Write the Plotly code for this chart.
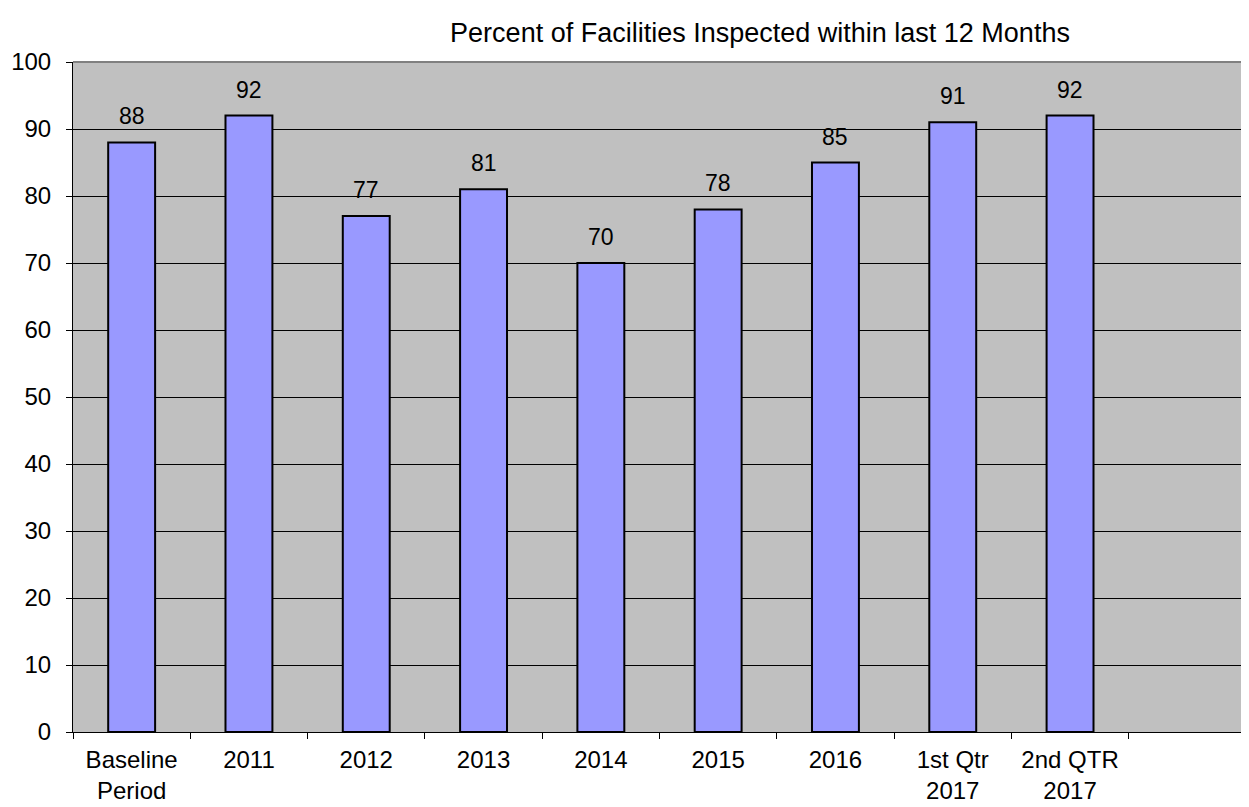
import plotly.graph_objects as go

categories = ["Baseline<br>Period", "2011", "2012", "2013", "2014", "2015", "2016",
              "1st Qtr<br>2017", "2nd QTR<br>2017", " "]
values = [88, 92, 77, 81, 70, 78, 85, 91, 92, None]
y_ticks = [0, 10, 20, 30, 40, 50, 60, 70, 80, 90, 100]
title = "Percent of Facilities Inspected within last 12 Months"

FONT = "Liberation Sans, Arial, sans-serif"
# the page body adds an 8px offset; the figure is sized to compensate
W, H = 1241, 799

fig = go.Figure()
fig.add_trace(go.Bar(
    x=categories, y=values,
    marker=dict(color="#9999FF", line=dict(color="black", width=2)),
    width=0.4, showlegend=False, hoverinfo="skip",
))

for i, v in enumerate(values):
    if v is not None:
        fig.add_annotation(x=i, y=v, text=str(v), showarrow=False,
                           yanchor="bottom", yshift=11,
                           font=dict(size=23, color="black", family=FONT))

fig.update_layout(
    width=W, height=H,
    margin=dict(l=65, r=3, t=54, b=75, autoexpand=False),
    paper_bgcolor="white",
    plot_bgcolor="#C0C0C0",
    font=dict(family=FONT, size=23, color="black"),
    title=dict(text=title, x=752 / W, xanchor="center", xref="container",
               y=1 - 25 / H, yanchor="middle", yref="container",
               pad=dict(t=0, b=0, l=0, r=0), automargin=False,
               font=dict(size=27, family=FONT, color="black")),
    bargap=0.6,
)
fig.update_xaxes(
    type="category", categoryorder="array", categoryarray=categories,
    range=[-0.5, 9.5], tickson="boundaries", ticks="outside", ticklen=6,
    tickcolor="black", tickwidth=1, showline=True, linecolor="black", linewidth=1,
    showgrid=False, tickfont=dict(size=24, family=FONT), tickangle=0,
    automargin=False, ticklabelstandoff=6,
)
fig.update_yaxes(
    range=[0, 100], tickvals=y_ticks, ticks="outside", ticklen=6,
    tickcolor="black", tickwidth=1, showline=True, linecolor="black", linewidth=1,
    showgrid=True, gridcolor="black", gridwidth=1, zeroline=False,
    tickfont=dict(size=24, family=FONT), automargin=False, ticklabelstandoff=10,
)
# top border of plot area
fig.add_shape(type="line", xref="paper", yref="paper", x0=0, x1=1, y0=1, y1=1,
              line=dict(color="#808080", width=2), layer="above")

fig.write_html("out.html")
